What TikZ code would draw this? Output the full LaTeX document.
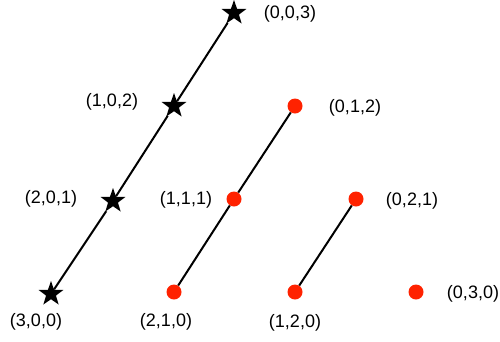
\documentclass[tikz,border=0pt]{standalone}
\usepackage{fontspec}
\setmainfont{Liberation Sans}
\usepackage{tikz}
\usetikzlibrary{shapes.geometric}
\definecolor{Dot}{HTML}{FF2200}

\begin{document}
\begin{tikzpicture}[
  x=1pt, y=-1pt,
  starpt/.style={star, star points=5, star point ratio=2.5, fill=black, inner sep=0pt, minimum size=26pt},
  dotpt/.style={circle, fill=Dot, inner sep=0pt, minimum size=15pt},
  lbl/.style={font=\fontsize{18}{20}\selectfont, inner sep=0pt},
  link/.style={line width=2pt, draw=black}
]
\useasboundingbox (0,0) rectangle (500,341);
\node[starpt] (s003) at (234,13) {};
\node[starpt] (s102) at (174,106) {};
\node[starpt] (s201) at (113,201) {};
\node[starpt] (s300) at (51,294) {};
\node[dotpt] (d012) at (295,106) {};
\node[dotpt] (d111) at (234,199) {};
\node[dotpt] (d210) at (174,292) {};
\node[dotpt] (d021) at (356,199) {};
\node[dotpt] (d120) at (295,292) {};
\node[dotpt] (d030) at (416,292) {};

\draw[link] (s300) -- (s201) -- (s102) -- (s003);
\draw[link] (d210) -- (d111) -- (d012);
\draw[link] (d120) -- (d021);

\node[lbl] (l003) at (290,14) {(0,0,3)};
\node[lbl] (l102) at (112,102) {(1,0,2)};
\node[lbl] (l201) at (51,199) {(2,0,1)};
\node[lbl] (l300) at (36,322) {(3,0,0)};
\node[lbl] (l012) at (355,108) {(0,1,2)};
\node[lbl] (l111) at (186,200) {(1,1,1)};
\node[lbl] (l210) at (166,322) {(2,1,0)};
\node[lbl] (l021) at (412,201) {(0,2,1)};
\node[lbl] (l120) at (295,323) {(1,2,0)};
\node[lbl] (l030) at (473,294) {(0,3,0)};
\end{tikzpicture}
\end{document}
